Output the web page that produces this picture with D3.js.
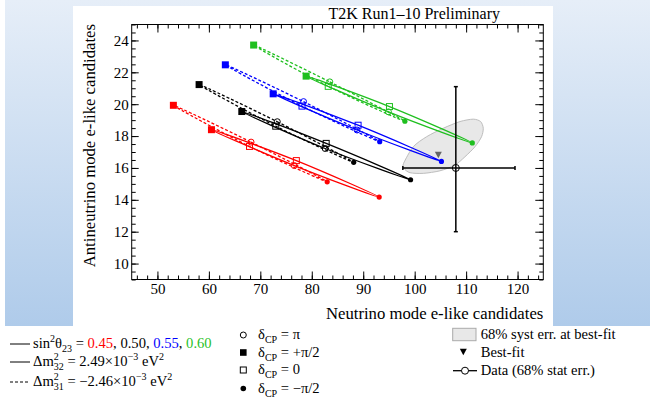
<!DOCTYPE html>
<html>
<head>
<meta charset="utf-8">
<script src="https://cdn.jsdelivr.net/npm/d3@7"></script>
<style>
  body { margin: 0; background: #fff; }
  svg { display: block; }
  text { font-family: "Liberation Serif", "Times New Roman", serif; }
</style>
</head>
<body>
<div id="wrapper"></div>
<script>
// sin^2(theta23) values, one curve per value and mass ordering
const sinValues = ["0.45", "0.50", "0.55", "0.60"];

// points round each curve, order dCP = +pi/2, pi, -pi/2, 0 ; [nu, nubar]
const normalPoints = [
    [[60.5, 18.40], [76.6, 16.15], [93.1, 14.17], [77.0, 16.46]],
    [[66.4, 19.54], [82.6, 17.22], [99.2, 15.26], [82.8, 17.54]],
    [[72.5, 20.65], [88.8, 18.38], [105.2, 16.41], [89.0, 18.68]],
    [[78.9, 21.76], [94.9, 19.52], [111.2, 17.57], [95.1, 19.85]]
];
const invertedPoints = [
    [[53.1, 19.93], [68.2, 17.62], [83.0, 15.13], [67.9, 17.35]],
    [[58.1, 21.23], [73.3, 18.90], [88.15, 16.35], [73.0, 18.62]],
    [[63.2, 22.47], [78.4, 20.16], [93.2, 17.65], [78.1, 19.88]],
    [[68.7, 23.71], [83.5, 21.40], [98.1, 18.93], [83.2, 21.12]]
];

// data with 68% stat errors
const dataPoint = [108.0, 16.0];
const dataErrNu = [97.7, 119.5];
const dataErrNubar = [12.0, 21.1];
const bestFit = [104.6, 16.8];

// 68% syst contour round the best fit
const systContour = [
    [97.85, 16.29], [99.73, 17.33], [102.33, 17.96], [105.56, 18.49],
    [108.8, 18.91], [111.38, 19.06], [112.82, 18.91], [113.33, 18.49],
    [113.0, 17.96], [111.72, 17.33], [109.77, 16.70], [107.83, 16.18],
    [104.91, 15.82], [101.67, 15.66], [99.09, 15.70], [97.92, 15.97]
];

const xTicks = [50, 60, 70, 80, 90, 100, 110, 120];
const yTicks = [10, 12, 14, 16, 18, 20, 22, 24];

function buildPlot() {
    const colours = ["#ff0000", "#000000", "#0000ff", "#1fbf1f"];

    const dimension = {
        width: 650,
        height: 399,
        margin: { top: 24.5, left: 131.7, right: 106.7, bottom: 119.5 }
    };
    dimension.boundedWidth = dimension.width - dimension.margin.left - dimension.margin.right;
    dimension.boundedHeight = dimension.height - dimension.margin.top - dimension.margin.bottom;

    const svg = d3.select("#wrapper").append("svg")
        .attr("width", dimension.width)
        .attr("height", dimension.height);

    // slide background
    const grad = svg.append("defs").append("linearGradient")
        .attr("id", "bg").attr("x1", 0).attr("y1", 0).attr("x2", 0).attr("y2", 1);
    grad.append("stop").attr("offset", "0%").attr("stop-color", "#e6eef8");
    grad.append("stop").attr("offset", "100%").attr("stop-color", "#afcbea");
    svg.append("rect").attr("x", 5).attr("y", 0).attr("width", 645).attr("height", 326)
        .attr("fill", "url(#bg)");
    svg.append("rect").attr("x", 73).attr("y", 6).attr("width", 480).attr("height", 320)
        .attr("fill", "white");

    const bounds = svg.append("g")
        .attr("transform", `translate(${dimension.margin.left},${dimension.margin.top})`);

    const xScaler = d3.scaleLinear().domain([45, 125]).range([0, dimension.boundedWidth]);
    const yScaler = d3.scaleLinear().domain([9, 25]).range([dimension.boundedHeight, 0]);

    const W = dimension.boundedWidth, H = dimension.boundedHeight;
    const xMinor = d3.range(46, 125, 2);
    const yMinor = d3.range(9, 25.01, 0.5);

    // axes, ticks pointing inwards on every side
    const styleAxis = g => {
        g.select(".domain").remove();
        g.selectAll("text").attr("font-size", "15px").attr("font-family", "Liberation Serif");
    };
    bounds.append("g").attr("transform", `translate(0,${H})`)
        .call(d3.axisBottom(xScaler).tickValues(xTicks).tickSizeInner(-8).tickSizeOuter(0).tickPadding(4))
        .call(styleAxis);
    bounds.append("g").attr("transform", `translate(0,${H})`)
        .call(d3.axisBottom(xScaler).tickValues(xMinor).tickSize(-4).tickFormat(""))
        .call(styleAxis);
    bounds.append("g")
        .call(d3.axisTop(xScaler).tickValues(xTicks).tickSize(-8).tickFormat(""))
        .call(styleAxis);
    bounds.append("g")
        .call(d3.axisTop(xScaler).tickValues(xMinor).tickSize(-4).tickFormat(""))
        .call(styleAxis);
    bounds.append("g")
        .call(d3.axisLeft(yScaler).tickValues(yTicks).tickSizeInner(-7).tickSizeOuter(0).tickPadding(3))
        .call(styleAxis);
    bounds.append("g")
        .call(d3.axisLeft(yScaler).tickValues(yMinor).tickSize(-4).tickFormat(""))
        .call(styleAxis);
    bounds.append("g").attr("transform", `translate(${W},0)`)
        .call(d3.axisRight(yScaler).tickValues(yTicks).tickSize(-8).tickFormat(""))
        .call(styleAxis);
    bounds.append("g").attr("transform", `translate(${W},0)`)
        .call(d3.axisRight(yScaler).tickValues(yMinor).tickSize(-4).tickFormat(""))
        .call(styleAxis);

    bounds.append("rect")
        .attr("width", W).attr("height", H)
        .attr("fill", "none").attr("stroke", "black").attr("stroke-width", 1);

    // syst contour
    const contourLine = d3.line()
        .x(d => xScaler(d[0])).y(d => yScaler(d[1]))
        .curve(d3.curveCardinalClosed.tension(0.2));
    bounds.append("path")
        .attr("d", contourLine(systContour))
        .attr("fill", "#e8e8e8")
        .attr("stroke", "#bdbdbd")
        .attr("stroke-width", 1);

    // delta CP curves
    const loopLine = d3.line()
        .x(d => xScaler(d[0])).y(d => yScaler(d[1]))
        .curve(d3.curveCatmullRomClosed.alpha(0.5));

    const curves = [];
    invertedPoints.forEach((pts, i) => curves.push({ pts, colour: colours[i], dashed: true }));
    normalPoints.forEach((pts, i) => curves.push({ pts, colour: colours[i], dashed: false }));

    bounds.append("g").selectAll("path")
        .data(curves)
        .enter()
        .append("path")
        .attr("d", d => loopLine(d.pts))
        .attr("fill", "none")
        .attr("stroke", d => d.colour)
        .attr("stroke-width", 1.3)
        .attr("stroke-dasharray", d => d.dashed ? "3 2" : null);

    // markers: filled square, open circle, filled circle, open square
    const markers = bounds.append("g");
    curves.forEach(c => {
        const [sq, oc, fc, os] = c.pts;
        markers.append("rect")
            .attr("x", xScaler(sq[0]) - 3.5).attr("y", yScaler(sq[1]) - 3.5)
            .attr("width", 7).attr("height", 7)
            .attr("fill", c.colour);
        markers.append("circle")
            .attr("cx", xScaler(oc[0])).attr("cy", yScaler(oc[1])).attr("r", 3)
            .attr("fill", "none").attr("stroke", c.colour).attr("stroke-width", 1);
        markers.append("circle")
            .attr("cx", xScaler(fc[0])).attr("cy", yScaler(fc[1])).attr("r", 2.6)
            .attr("fill", c.colour);
        markers.append("rect")
            .attr("x", xScaler(os[0]) - 3).attr("y", yScaler(os[1]) - 3)
            .attr("width", 6).attr("height", 6)
            .attr("fill", "none").attr("stroke", c.colour).attr("stroke-width", 1);
    });

    // best fit
    const bx = xScaler(bestFit[0]), by = yScaler(bestFit[1]);
    bounds.append("path")
        .attr("d", `M${bx - 3.5},${by - 3.5}L${bx + 3.5},${by - 3.5}L${bx},${by + 3}Z`)
        .attr("fill", "#666");

    // data with error bars
    const dx = xScaler(dataPoint[0]), dy = yScaler(dataPoint[1]);
    const cross = bounds.append("g").attr("stroke", "black").attr("stroke-width", 1.5);
    cross.append("line")
        .attr("x1", xScaler(dataErrNu[0])).attr("x2", xScaler(dataErrNu[1]))
        .attr("y1", dy).attr("y2", dy);
    cross.append("line")
        .attr("x1", dx).attr("x2", dx)
        .attr("y1", yScaler(dataErrNubar[0])).attr("y2", yScaler(dataErrNubar[1]));
    [dataErrNu[0], dataErrNu[1]].forEach(v => cross.append("line")
        .attr("x1", xScaler(v)).attr("x2", xScaler(v)).attr("y1", dy - 2).attr("y2", dy + 2));
    [dataErrNubar[0], dataErrNubar[1]].forEach(v => cross.append("line")
        .attr("x1", dx - 2).attr("x2", dx + 2).attr("y1", yScaler(v)).attr("y2", yScaler(v)));
    bounds.append("circle")
        .attr("cx", dx).attr("cy", dy).attr("r", 3.5)
        .attr("fill", "none").attr("stroke", "black").attr("stroke-width", 1);

    // titles
    svg.append("text")
        .attr("x", 500).attr("y", 19)
        .attr("text-anchor", "end")
        .attr("font-size", "16px")
        .text("T2K Run1\u201310 Preliminary");
    svg.append("text")
        .attr("transform", "translate(95,24) rotate(-90)")
        .attr("text-anchor", "end")
        .attr("font-size", "16.7px")
        .text("Antineutrino mode e-like candidates");
    svg.append("text")
        .attr("x", 543.3).attr("y", 319)
        .attr("text-anchor", "end")
        .attr("font-size", "16.7px")
        .text("Neutrino mode e-like candidates");

    // legend
    const legend = svg.append("g").attr("font-size", "14.6px");

    legend.append("line").attr("x1", 10).attr("x2", 30).attr("y1", 344).attr("y2", 344)
        .attr("stroke", "black").attr("stroke-width", 1);
    legend.append("line").attr("x1", 10).attr("x2", 30).attr("y1", 362).attr("y2", 362)
        .attr("stroke", "black").attr("stroke-width", 1);
    legend.append("line").attr("x1", 10).attr("x2", 30).attr("y1", 382).attr("y2", 382)
        .attr("stroke", "black").attr("stroke-width", 1).attr("stroke-dasharray", "3 2");

    const t1 = legend.append("text").attr("x", 33).attr("y", 347.5);
    t1.append("tspan").text("sin");
    t1.append("tspan").attr("dy", -6).attr("font-size", "10px").text("2");
    t1.append("tspan").attr("dy", 6).text("\u03b8");
    t1.append("tspan").attr("dy", 4).attr("font-size", "10px").text("23");
    t1.append("tspan").attr("dy", -4).text(" = ");
    sinValues.forEach((v, i) => {
        t1.append("tspan").attr("fill", colours[i]).text(v);
        if (i < sinValues.length - 1) t1.append("tspan").text(", ");
    });

    const massRow = (y, sub, value) => {
        const t = legend.append("text").attr("x", 33).attr("y", y);
        t.append("tspan").text("\u0394m");
        t.append("tspan").attr("dy", -6).attr("font-size", "10px").text("2");
        t.append("tspan").attr("dx", -5).attr("dy", 10).attr("font-size", "10px").text(sub);
        t.append("tspan").attr("dy", -4).text(" = " + value + "\u00d710");
        t.append("tspan").attr("dy", -6).attr("font-size", "10px").text("\u22123");
        t.append("tspan").attr("dy", 6).text(" eV");
        t.append("tspan").attr("dy", -6).attr("font-size", "10px").text("2");
    };
    massRow(366, "32", "2.49");
    massRow(386, "31", "\u22122.46");

    const dcpLabels = ["\u03c0", "+\u03c0/2", "0", "\u2212\u03c0/2"];
    const dcpY = [335, 352.5, 370, 388.5];
    dcpLabels.forEach((lab, i) => {
        const t = legend.append("text").attr("x", 258).attr("y", dcpY[i] + 4);
        t.append("tspan").text("\u03b4");
        t.append("tspan").attr("dy", 4).attr("font-size", "10px").text("CP");
        t.append("tspan").attr("dy", -4).text(" = " + lab);
    });
    legend.append("circle").attr("cx", 243.3).attr("cy", dcpY[0]).attr("r", 3)
        .attr("fill", "none").attr("stroke", "black");
    legend.append("rect").attr("x", 240).attr("y", dcpY[1] - 3.3).attr("width", 6.6).attr("height", 6.6)
        .attr("fill", "black");
    legend.append("rect").attr("x", 240.3).attr("y", dcpY[2] - 3).attr("width", 6).attr("height", 6)
        .attr("fill", "none").attr("stroke", "black");
    legend.append("circle").attr("cx", 243.3).attr("cy", dcpY[3]).attr("r", 2.8)
        .attr("fill", "black");

    legend.append("rect").attr("x", 452.7).attr("y", 328.3).attr("width", 23.3).attr("height", 12.4)
        .attr("fill", "#e8e8e8").attr("stroke", "#aaaaaa");
    legend.append("text").attr("x", 480.7).attr("y", 338.5).text("68% syst err. at best-fit");
    legend.append("path").attr("d", "M459.8,348.8L466.8,348.8L463.3,355.3Z").attr("fill", "black");
    legend.append("text").attr("x", 480.7).attr("y", 356.5).text("Best-fit");
    legend.append("line").attr("x1", 453).attr("x2", 477).attr("y1", 370.7).attr("y2", 370.7)
        .attr("stroke", "black").attr("stroke-width", 1.3);
    legend.append("circle").attr("cx", 465).attr("cy", 370.7).attr("r", 3.5)
        .attr("fill", "white").attr("stroke", "black");
    legend.append("text").attr("x", 480.7).attr("y", 374.5).text("Data (68% stat err.)");
}

buildPlot();
</script>
</body>
</html>
